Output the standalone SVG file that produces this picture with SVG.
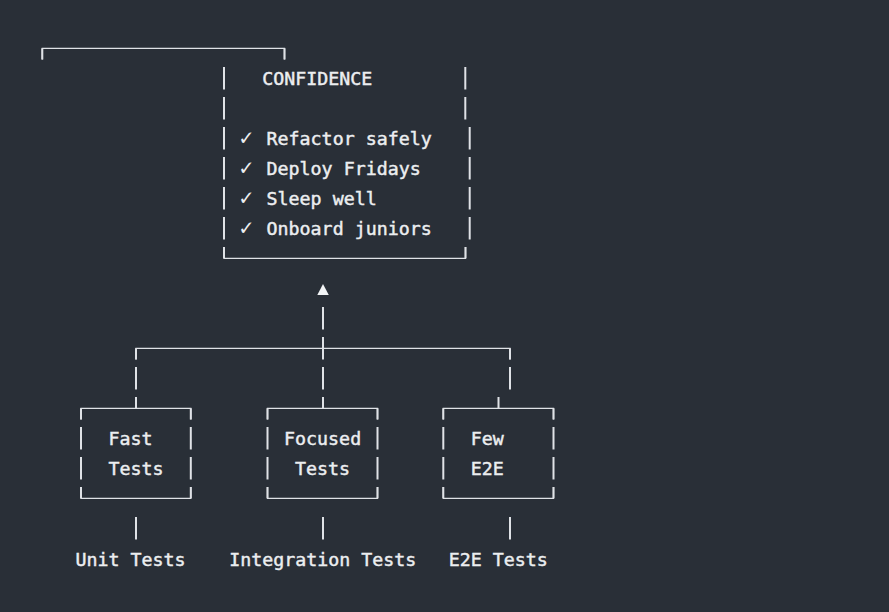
<svg xmlns="http://www.w3.org/2000/svg" width="889" height="612" viewBox="0 0 889 612">
<style>
.t{font-family:"DejaVu Sans Mono","Liberation Mono",monospace;font-size:18.3px;fill:#eceef0;stroke:#eceef0;stroke-width:0.45px;white-space:pre}
.ck{font-family:"DejaVu Sans Mono","DejaVu Sans",monospace;font-size:22.5px;fill:#eceef0}
.v{stroke:#dfe2e6;stroke-width:2;fill:none}
.h{stroke:#dfe2e6;stroke-width:1.3;fill:none}
</style>
<rect width="889" height="612" fill="#292f37"/>
<g id="confidence">
<path class="h" d="M42.3 59.5V48.3H284.5V59.5"/>
<path class="v" d="M42.3 48.3V59.5M284.5 48.3V59.5"/>
<path class="v" d="M224 67V89.5M224 97V119.5M224 127V149.5M224 157V179.5M224 187V209.5M224 217V239.5"/>
<path class="v" d="M465.3 67V89.5M465.3 97V119.5M469.7 127V149.5M469.7 157V179.5M469.7 187V209.5M469.7 217V239.5"/>
<path class="h" d="M224 247V258.3H465.5V247"/>
<path class="v" d="M224 247V258.3M465.5 247V258.3"/>
<text class="t" x="262.2" y="85.3">CONFIDENCE</text>
<text class="ck" x="239.5" y="145">✓</text><text class="t" x="266.6" y="145.3">Refactor safely</text>
<text class="ck" x="239.5" y="175">✓</text><text class="t" x="266.6" y="175.3">Deploy Fridays</text>
<text class="ck" x="239.5" y="205">✓</text><text class="t" x="266.6" y="205.3">Sleep well</text>
<text class="ck" x="239.5" y="235">✓</text><text class="t" x="266.6" y="235.3">Onboard juniors</text>
</g>
<g id="connectors">
<polygon points="317.3,295 328.8,295 323,284" fill="#f2f4f6"/>
<path class="v" d="M323 307V329.5M323 337V359.5M323 367V389.5M323 397V408.3"/>
<path class="h" d="M136 359.5V348.3H510V359.5"/>
<path class="v" d="M136 348.3V359.5M510 348.3V359.5"/>
<path class="v" d="M136 367V389.5M510 367V389.5M136 397V408.3M498.5 397V408.3"/>
<path class="v" d="M136 517V539.5M323 517V539.5M510 517V539.5"/>
</g>
<g id="fast">
<path class="h" d="M81 419.5V408.3H190.8V419.5M81 487V498.3H190.8V487"/>
<path class="v" d="M81 408.3V419.5M190.8 408.3V419.5M81 427V449.5M81 457V479.5M190.8 427V449.5M190.8 457V479.5M81 487V498.3M190.8 487V498.3"/>
<text class="t" x="108.4" y="445.3">Fast</text>
<text class="t" x="108.4" y="475.3">Tests</text>
</g>
<g id="focused">
<path class="h" d="M267.5 419.5V408.3H377.5V419.5M267.5 487V498.3H377.5V487"/>
<path class="v" d="M267.5 408.3V419.5M377.5 408.3V419.5M267.5 427V449.5M267.5 457V479.5M377.5 427V449.5M377.5 457V479.5M267.5 487V498.3M377.5 487V498.3"/>
<text class="t" x="284.1" y="445.3">Focused</text>
<text class="t" x="295.1" y="475.3">Tests</text>
</g>
<g id="few">
<path class="h" d="M443.3 419.5V408.3H553.5V419.5M443.3 487V498.3H553.5V487"/>
<path class="v" d="M443.3 408.3V419.5M553.5 408.3V419.5M443.3 427V449.5M443.3 457V479.5M553.5 427V449.5M553.5 457V479.5M443.3 487V498.3M553.5 487V498.3"/>
<text class="t" x="470.8" y="445.3">Few</text>
<text class="t" x="470.8" y="475.3">E2E</text>
</g>
<g id="label-unit"><text class="t" x="75.5" y="566">Unit Tests</text></g>
<g id="label-integration"><text class="t" x="229.2" y="566">Integration Tests</text></g>
<g id="label-e2e"><text class="t" x="448.8" y="566">E2E Tests</text></g>
</svg>
